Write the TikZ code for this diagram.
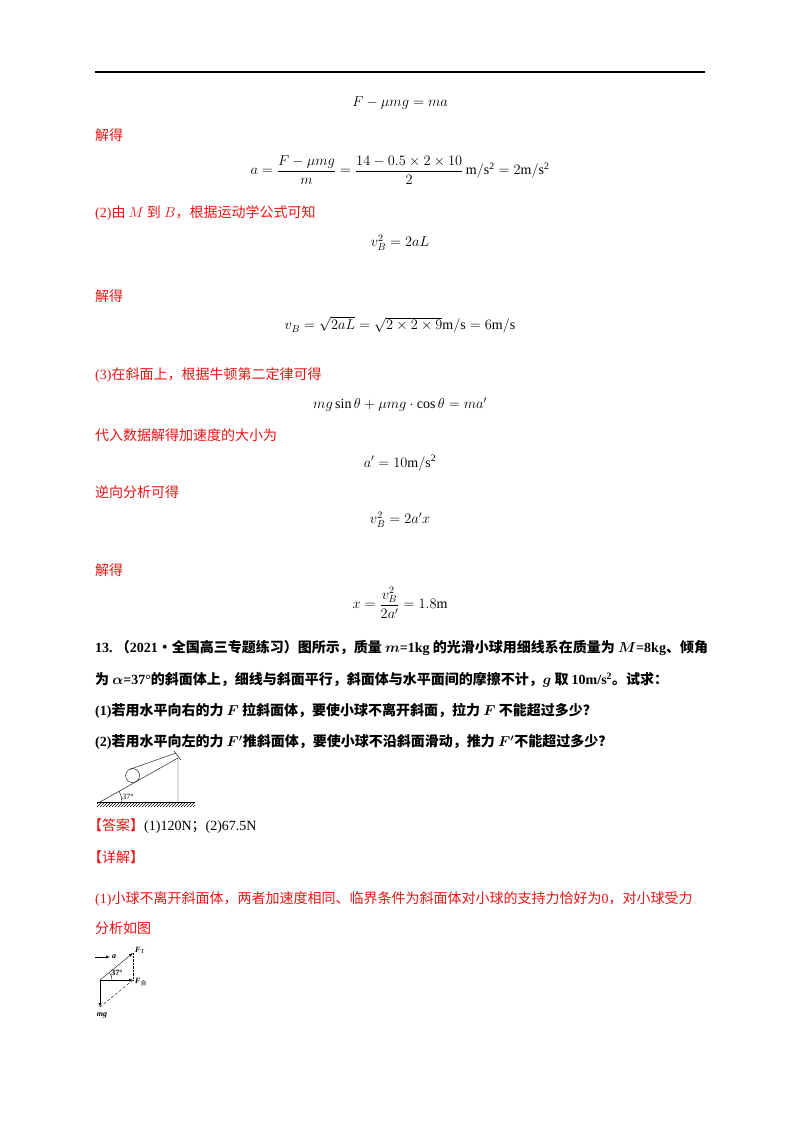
\documentclass[tikz,border=0pt]{standalone}
\usepackage{amsmath}
\usepackage{fontspec}
\setmainfont{Noto Sans CJK SC}
\setmathrm{Liberation Serif}
\newfontfamily\lat{Liberation Serif}
\usetikzlibrary{patterns}
\definecolor{rd}{RGB}{235,20,20}
\newcommand{\LL}[1]{{\lat #1}}
\begin{document}
\begin{tikzpicture}[x=1pt,y=-1pt,
  txt/.style={anchor=west,inner sep=0pt,font=\fontsize{14}{16}\selectfont},
  red/.style={txt,text=rd},
  hd/.style={txt,font=\fontsize{14}{16}\selectfont\bfseries},
  eq/.style={inner sep=0pt,font=\fontsize{14}{16}\selectfont},
  fd/.style={inner sep=0pt,font=\fontsize{8}{9}\selectfont}]
\useasboundingbox (0,0) rectangle (800,1132);
\fill[white] (0,0) rectangle (800,1132);
\draw[line width=1.5pt] (95,72) -- (705,72);
\node[eq] (e1) at (400,103) {$F-\mu mg=ma$};
\node[red] (t1) at (95,135) {解得};
\node[eq] (e2) at (400,170) {$a=\dfrac{F-\mu mg}{m}=\dfrac{14-0.5\times2\times10}{2}\,\mathrm{m/s^2}=2\mathrm{m/s^2}$};
\node[red] (t2) at (95,213) {\LL{(2)}由 $M$ 到 $B$，根据运动学公式可知};
\node[eq] (e3) at (400,243) {$v_B^2=2aL$};
\node[red] (t3) at (95,296) {解得};
\node[eq] (e4) at (400,325) {$v_B=\sqrt{2aL}=\sqrt{2\times2\times9}\mathrm{m/s}=6\mathrm{m/s}$};
\node[red] (t4) at (95,375) {\LL{(3)}在斜面上，根据牛顿第二定律可得};
\node[eq] (e5) at (400,405) {$mg\sin\theta+\mu mg\cdot\cos\theta=ma'$};
\node[red] (t5) at (95,435) {代入数据解得加速度的大小为};
\node[eq] (e6) at (400,463) {$a'=10\mathrm{m/s^2}$};
\node[red] (t6) at (95,492) {逆向分析可得};
\node[eq] (e7) at (400,520) {$v_B^2=2a'x$};
\node[red] (t7) at (95,570) {解得};
\node[eq] (e8) at (400,603) {$x=\dfrac{v_B^2}{2a'}=1.8\mathrm{m}$};
\node[hd] (h1) at (95,648) {\LL{\bfseries 13.}\ （\LL{\bfseries 2021}·全国高三专题练习）图所示，质量 $\boldsymbol{m}$\LL{\bfseries =1kg} 的光滑小球用细线系在质量为 $\boldsymbol{M}$\LL{\bfseries =8kg}、倾角};
\node[hd] (h2) at (95,680) {为 $\boldsymbol{\alpha}$\LL{\bfseries =37°}的斜面体上，细线与斜面平行，斜面体与水平面间的摩擦不计，$\boldsymbol{g}$ 取 \LL{\bfseries 10m/s\textsuperscript{2}}。试求：};
\node[hd] (h3) at (95,711) {\LL{\bfseries (1)}若用水平向右的力 $\boldsymbol{F}$ 拉斜面体，要使小球不离开斜面，拉力 $\boldsymbol{F}$ 不能超过多少？};
\node[hd] (h4) at (95,742) {\LL{\bfseries (2)}若用水平向左的力 $\boldsymbol{F'}$推斜面体，要使小球不沿斜面滑动，推力 $\boldsymbol{F'}$不能超过多少？};
% incline figure
\fill[pattern=north east lines] (97,802) rectangle (195,806);
\draw (97,802) -- (195,802);
\coordinate (A) at (100,802);
\coordinate (T) at (178,758);
\draw (A) -- (T) -- (178,802);
\draw (174,751) -- (181,760);
\draw (132.6,775.6) circle (7);
\draw (129.2,769.5) -- (176,753);
\draw (122,802) arc (0:-29:22);
\node[fd] (ang) at (128,797) {\LL{37°}};
\node[red] (ans) at (88,826) {【答案】\textcolor{black}{\LL{(1)120N}；\LL{(2)67.5N}}};
\node[red] (det) at (88,857) {【详解】};
\node[red] (t8) at (95,899) {\LL{(1)}小球不离开斜面体，两者加速度相同、临界条件为斜面体对小球的支持力恰好为\LL{0}，对小球受力};
\node[red] (t9) at (95,928) {分析如图};
% force diagram
\coordinate (O) at (100,980);
\coordinate (FT) at (133,953);
\coordinate (FH) at (133,980);
\coordinate (MG) at (100,1007);
\draw[-latex] (O) -- (FT);
\draw[-latex] (O) -- (FH);
\draw[-latex] (O) -- (MG);
\draw[densely dotted] (FT) -- (FH);
\draw[densely dashed] (FH) -- (MG);
\draw (112,980) arc (0:-39:12);
\coordinate (a1) at (95,957);
\coordinate (a2) at (110,957);
\draw[-latex] (a1) -- (a2);
\node[fd,anchor=west] (la) at (112,957) {\LL{\itshape\bfseries a}};
\node[fd,anchor=west] (lft) at (135,950) {\LL{\itshape\bfseries F}\textsubscript{\LL{T}}};
\node[fd,anchor=west] (lfh) at (135,982) {\LL{\itshape\bfseries F}\textsubscript{合}};
\node[fd] (l37) at (117,973) {\LL{\bfseries 37°}};
\node[fd] (lmg) at (102,1015) {\LL{\itshape\bfseries mg}};
\end{tikzpicture}
\end{document}
